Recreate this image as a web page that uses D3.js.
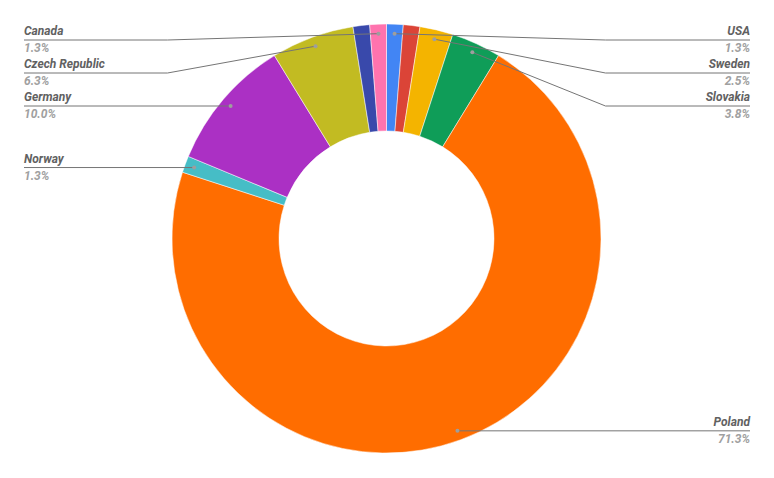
<!DOCTYPE html>
<html><head><meta charset="utf-8">
<script src="https://cdn.jsdelivr.net/npm/d3@7"></script>
<style>body{margin:0;background:#fff}svg{display:block}</style>
</head><body>
<svg id="c" width="774" height="478"></svg>
<script>
const categories = ["USA","Unlabeled A","Sweden","Slovakia","Poland","Norway","Germany","Czech Republic","Unlabeled B","Canada"];
const counts = [1,1,2,3,57,1,8,5,1,1];
const percentLabels = ["1.3%","1.3%","2.5%","3.8%","71.3%","1.3%","10.0%","6.3%","1.3%","1.3%"];
const showLabel = [true,false,true,true,true,true,true,true,false,true];
const colors = ["#4285f4","#db4437","#f4b400","#0f9d58","#ff6d00","#46bdc6","#ab30c4","#c2bb22","#3949ab","#ff73ae"];

const svg = d3.select("#c");
const cx = 386.5, cy = 238.5, R = 214.5, r0 = 107.5;
const g = svg.append("g").attr("transform", `translate(${cx},${cy})`);
const data = categories.map((c,i)=>({name:c,value:counts[i],pct:percentLabels[i],show:showLabel[i],color:colors[i]}));
const pie = d3.pie().value(d=>d.value).sort(null);
const arcs = pie(data);
const arc = d3.arc().innerRadius(r0).outerRadius(R);
g.selectAll("path.slice").data(arcs).join("path")
  .attr("class","slice").attr("d",arc).attr("fill",d=>d.data.color)
  .attr("stroke","#fff").attr("stroke-width",0.5);

// labels
const dotR = 205;
const items = arcs.filter(a=>a.data.show).map(a=>{
  const m = (a.startAngle+a.endAngle)/2;
  return {a, m, x: Math.sin(m)*dotR, y: -Math.cos(m)*dotR, right: m < Math.PI};
});
const minY = 40 - cy, gap = 33;
function layout(list){
  list.sort((p,q)=>p.y-q.y);
  let prev = -Infinity;
  list.forEach(it=>{
    let ly = Math.max(it.y, minY, prev + gap);
    it.ly = ly; prev = ly;
  });
}
const rightItems = items.filter(d=>d.right), leftItems = items.filter(d=>!d.right);
layout(rightItems); layout(leftItems);
const elbow = 219;
const leftX = 24 - cx, rightX = 750 - cx;
items.forEach(it=>{
  const ex = it.right ? elbow : -elbow;
  const endX = it.right ? rightX : leftX;
  const straight = Math.abs(it.ly - it.y) < 1.5;
  const pts = straight ? [[it.x,it.ly],[endX,it.ly]] : [[it.x,it.y],[ex,it.ly],[endX,it.ly]];
  g.append("path").attr("d", d3.line()(pts)).attr("fill","none")
    .attr("stroke","#757575").attr("stroke-width",1);
  g.append("circle").attr("cx",it.x).attr("cy",straight?it.ly:it.y).attr("r",2).attr("fill","#9e9e9e");
  const anchor = it.right ? "end" : "start";
  g.append("text").attr("x",endX).attr("y",it.ly-5).attr("text-anchor",anchor)
    .attr("font-family","Roboto, sans-serif").attr("font-size",12).attr("font-weight","bold")
    .attr("font-style","italic").attr("fill","#616161").text(it.a.data.name);
  g.append("text").attr("x",endX).attr("y",it.ly+12).attr("text-anchor",anchor)
    .attr("font-family","Roboto, sans-serif").attr("font-size",12).attr("font-weight","bold")
    .attr("font-style","italic").attr("fill","#a0a0a0").text(it.a.data.pct);
});
</script>
</body></html>
